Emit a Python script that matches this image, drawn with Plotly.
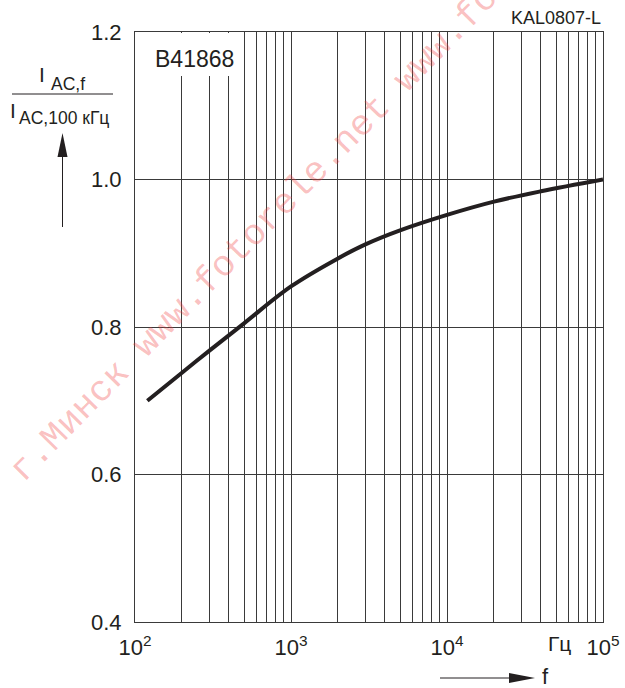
import plotly.graph_objects as go

# ---- data ----
freq_hz = [120, 200, 300, 500, 1000, 2000, 3000, 5000, 10000, 20000, 40000, 100000]
current_ratio = [0.700, 0.738, 0.768, 0.805, 0.855, 0.893, 0.912, 0.931, 0.952, 0.970, 0.984, 1.000]

x_grid_vals = [m * 10 ** e for e in (2, 3, 4) for m in range(1, 10)] + [100000]
x_tick_text = ["10<sup>2</sup>" if v == 100 else "10<sup>3</sup>" if v == 1000 else
               "10<sup>4</sup>" if v == 10000 else "10<sup>5</sup>" if v == 100000 else " "
               for v in x_grid_vals]
y_tick_vals = [0.4, 0.6, 0.8, 1.0, 1.2]
y_tick_text = ["0.4", "0.6", "0.8", "1.0", "1.2"]

# ---- layout geometry (pixels) ----
W, H = 625, 688
L, R, T, B = 135, 603, 32, 622


def px(x):
    return (x - L) / (R - L)


def py(y):
    return (B - y) / (B - T)


FONT = "Liberation Sans, Arial, sans-serif"
INK = "#231f20"
GRID = "#3a3a3a"

fig = go.Figure()
fig.add_trace(go.Scatter(
    x=freq_hz, y=current_ratio, mode="lines",
    line=dict(color=INK, width=4, shape="spline", smoothing=1.0),
    hoverinfo="skip", showlegend=False,
))

fig.update_layout(
    width=W, height=H,
    margin=dict(l=L, r=W - R, t=T, b=H - B, autoexpand=False),
    paper_bgcolor="white", plot_bgcolor="white",
    font=dict(family=FONT, color=INK, size=22),
    showlegend=False,
    xaxis=dict(
        type="log", range=[2, 5], automargin=False, tickangle=0,
        tickvals=x_grid_vals, ticktext=x_tick_text,
        showgrid=True, gridcolor=GRID, gridwidth=1,
        showline=True, linecolor=GRID, linewidth=1, mirror=True,
        ticks="", ticklabelstandoff=6,
        tickfont=dict(family=FONT, size=22, color=INK),
        zeroline=False,
    ),
    yaxis=dict(
        range=[0.4, 1.2], automargin=False,
        tickvals=y_tick_vals, ticktext=y_tick_text,
        showgrid=True, gridcolor=GRID, gridwidth=1,
        showline=True, linecolor=GRID, linewidth=1, mirror=True,
        ticks="", ticklabelstandoff=8,
        tickfont=dict(family=FONT, size=22, color=INK),
        zeroline=False,
    ),
)

shapes = []
# white box behind the part label
shapes.append(dict(type="rect", xref="paper", yref="paper",
                   x0=px(136), x1=px(240), y0=py(76), y1=py(33),
                   fillcolor="white", line=dict(width=0), layer="above"))
# fraction bar
shapes.append(dict(type="line", xref="paper", yref="paper",
                   x0=px(12), x1=px(113), y0=py(94), y1=py(94),
                   line=dict(color=INK, width=1)))
# vertical arrow
shapes.append(dict(type="line", xref="paper", yref="paper",
                   x0=px(62.5), x1=px(62.5), y0=py(227), y1=py(152),
                   line=dict(color=INK, width=1)))
shapes.append(dict(type="path", xref="paper", yref="paper",
                   path=f"M {px(62.5)} {py(133)} L {px(57.5)} {py(157)} L {px(67.5)} {py(157)} Z",
                   fillcolor=INK, line=dict(width=0)))
# horizontal arrow
shapes.append(dict(type="line", xref="paper", yref="paper",
                   x0=px(440), x1=px(515), y0=py(678), y1=py(678),
                   line=dict(color=INK, width=1)))
shapes.append(dict(type="path", xref="paper", yref="paper",
                   path=f"M {px(535)} {py(678)} L {px(509)} {py(673)} L {px(509)} {py(683)} Z",
                   fillcolor=INK, line=dict(width=0)))
fig.update_layout(shapes=shapes)


def note(text, x, y, size, xanchor="center", yanchor="middle", **kw):
    fig.add_annotation(text=text, xref="paper", yref="paper", x=px(x), y=py(y),
                       xanchor=xanchor, yanchor=yanchor, showarrow=False,
                       font=dict(family=FONT, size=size, color=INK), **kw)


note("KAL0807-L", 603, 18, 18, xanchor="right")
note("B41868", 194, 58.5, 23)
note("I", 42, 74.5, 21)
note("AC,f", 49, 83.5, 17.5, xanchor="left")
note("I", 13, 110, 21)
note("AC,100 кГц", 17, 118.5, 17.5, xanchor="left")
note("Гц", 559, 643, 21)
note("f", 545, 676, 22)

# watermark
fig.add_annotation(
    text="г.Минск www.fotorele.net www.fotorele.net",
    xref="paper", yref="paper", x=px(331), y=py(156),
    xanchor="center", yanchor="middle", showarrow=False, textangle=-45.5,
    font=dict(family="Liberation Mono, Courier New, monospace", size=36.5,
              color="rgba(240,60,60,0.32)"),
)

fig.write_html("out.html",
               config={"displayModeBar": False, "staticPlot": True},
               post_script="document.body.style.margin='0px';document.body.style.overflow='hidden';")
